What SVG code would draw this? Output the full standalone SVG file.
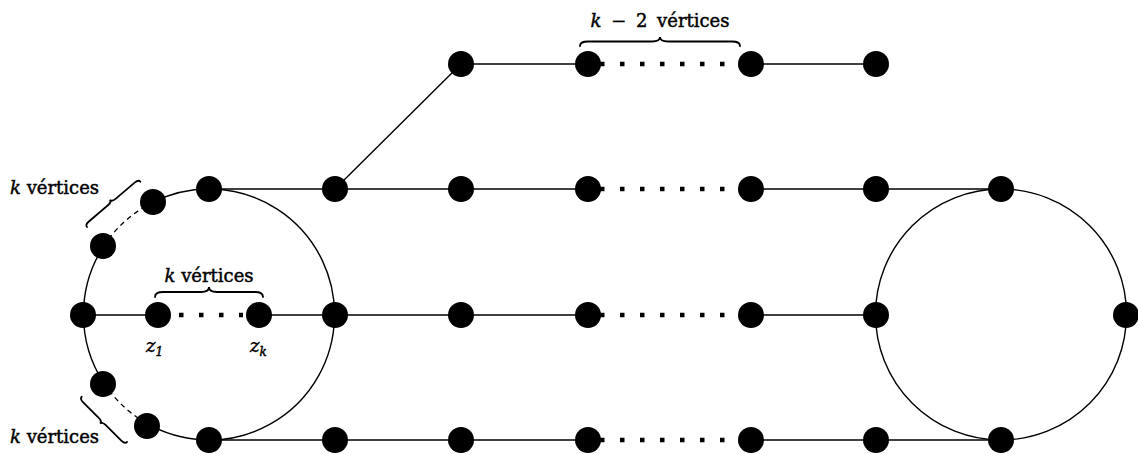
<svg xmlns="http://www.w3.org/2000/svg" width="1138" height="454" viewBox="0 0 1138 454">
  <style>
    .edge { stroke: #000; stroke-width: 1.4; fill: none; }
    .dash { stroke: #000; stroke-width: 1.3; fill: none; stroke-dasharray: 5 4; }
    .dots { stroke: #000; stroke-width: 4.5; fill: none; stroke-dasharray: 4.5 15.5; }
    .brace { stroke: #000; stroke-width: 1.8; fill: none; stroke-linecap: round; }
    .node { fill: #000; }
    .lbl { font-family: "DejaVu Serif", "Liberation Serif", serif; font-size: 18px; fill: #000; stroke: #000; stroke-width: 0.45; }
    .it { font-style: italic; }
  </style>

  <g id="connectors">
    <!-- left cycle: solid arcs with two dashed stretches -->
    <path class="edge" d="M 153.2 202.1 A 125.5 125.5 0 1 1 146.3 423.2"/>
    <path class="dash" d="M 146.3 423.2 A 125.5 125.5 0 0 1 103.7 382.8"/>
    <path class="edge" d="M 103.7 382.8 A 125.5 125.5 0 0 1 103.5 246.5"/>
    <path class="dash" d="M 103.5 246.5 A 125.5 125.5 0 0 1 153.2 202.1"/>
    <!-- right cycle -->
    <circle class="edge" cx="1001" cy="314.5" r="125.5"/>

    <!-- top path -->
    <line class="edge" x1="335" y1="189" x2="461" y2="64"/>
    <line class="edge" x1="461" y1="64" x2="588" y2="64"/>
    <line class="dots" x1="600" y1="64" x2="744" y2="64"/>
    <line class="edge" x1="751" y1="64" x2="876" y2="64"/>

    <!-- row 2 -->
    <line class="edge" x1="209" y1="189" x2="588" y2="189"/>
    <line class="dots" x1="600" y1="189" x2="744" y2="189"/>
    <line class="edge" x1="751" y1="189" x2="1001" y2="189"/>

    <!-- row 3 -->
    <line class="edge" x1="83" y1="315" x2="158" y2="315"/>
    <line class="dots" x1="179" y1="315" x2="243" y2="315"/>
    <line class="edge" x1="259" y1="315" x2="588" y2="315"/>
    <line class="dots" x1="600" y1="315" x2="744" y2="315"/>
    <line class="edge" x1="751" y1="315" x2="876" y2="315"/>

    <!-- row 4 -->
    <line class="edge" x1="209" y1="440" x2="588" y2="440"/>
    <line class="dots" x1="600" y1="440" x2="744" y2="440"/>
    <line class="edge" x1="751" y1="440" x2="1001" y2="440"/>
  </g>

  <g id="braces">
    <path class="brace" transform="translate(580,46)" d="M 0 0 Q 0 -4.5 8 -4.5 L 72 -4.5 Q 80 -4.5 80 -9 Q 80 -4.5 88 -4.5 L 152 -4.5 Q 160 -4.5 160 0"/>
    <path class="brace" transform="translate(155,297)" d="M 0 0 Q 0 -5 8 -5 L 46 -5 Q 54 -5 54 -10 Q 54 -5 62 -5 L 100 -5 Q 108 -5 108 0"/>
    <path class="brace" transform="translate(87,227) rotate(-40.3)" d="M 0 0 Q 0 -3 5 -3 L 30 -3 Q 35 -3 35 -6 Q 35 -3 40 -3 L 65 -3 Q 70 -3 70 0"/>
    <path class="brace" transform="translate(127,442) rotate(225)" d="M 0 0 Q 0 -3 5 -3 L 27 -3 Q 32 -3 32 -6 Q 32 -3 37 -3 L 59 -3 Q 64 -3 64 0"/>
  </g>

  <g id="nodes">
    <g id="top-row">
      <circle class="node" cx="461" cy="64" r="13"/>
      <circle class="node" cx="588" cy="64" r="13"/>
      <circle class="node" cx="751" cy="64" r="13"/>
      <circle class="node" cx="876" cy="64" r="13"/>
    </g>
    <g id="row-2">
      <circle class="node" cx="209" cy="189" r="13"/>
      <circle class="node" cx="335" cy="189" r="13"/>
      <circle class="node" cx="461" cy="189" r="13"/>
      <circle class="node" cx="588" cy="189" r="13"/>
      <circle class="node" cx="751" cy="189" r="13"/>
      <circle class="node" cx="876" cy="189" r="13"/>
      <circle class="node" cx="1001" cy="189" r="13"/>
    </g>
    <g id="row-3">
      <circle class="node" cx="83" cy="315" r="13"/>
      <circle id="z1" class="node" cx="158" cy="315" r="13"/>
      <circle id="zk" class="node" cx="259" cy="315" r="13"/>
      <circle class="node" cx="335" cy="315" r="13"/>
      <circle class="node" cx="461" cy="315" r="13"/>
      <circle class="node" cx="588" cy="315" r="13"/>
      <circle class="node" cx="751" cy="315" r="13"/>
      <circle class="node" cx="876" cy="315" r="13"/>
      <circle class="node" cx="1126" cy="315" r="13"/>
    </g>
    <g id="row-4">
      <circle class="node" cx="209" cy="440" r="13"/>
      <circle class="node" cx="335" cy="440" r="13"/>
      <circle class="node" cx="461" cy="440" r="13"/>
      <circle class="node" cx="588" cy="440" r="13"/>
      <circle class="node" cx="751" cy="440" r="13"/>
      <circle class="node" cx="876" cy="440" r="13"/>
      <circle class="node" cx="1001" cy="440" r="13"/>
    </g>
    <g id="cycle-extra">
      <circle class="node" cx="153" cy="202" r="13"/>
      <circle class="node" cx="103" cy="246" r="13"/>
      <circle class="node" cx="103" cy="384" r="13"/>
      <circle class="node" cx="147" cy="426" r="13"/>
    </g>
  </g>

  <g id="labels">
    <text class="lbl" x="660" y="27" text-anchor="middle" word-spacing="4"><tspan class="it">k</tspan> − 2 vértices</text>
    <text class="lbl" x="10" y="194"><tspan class="it">k</tspan> vértices</text>
    <text class="lbl" x="10" y="443"><tspan class="it">k</tspan> vértices</text>
    <text class="lbl" x="209" y="282" text-anchor="middle"><tspan class="it">k</tspan> vértices</text>
    <text class="lbl it" x="146" y="352" font-size="19">z<tspan font-size="12" dy="4">1</tspan></text>
    <text class="lbl it" x="250" y="352" font-size="19">z<tspan font-size="12" dy="4">k</tspan></text>
  </g>
</svg>
